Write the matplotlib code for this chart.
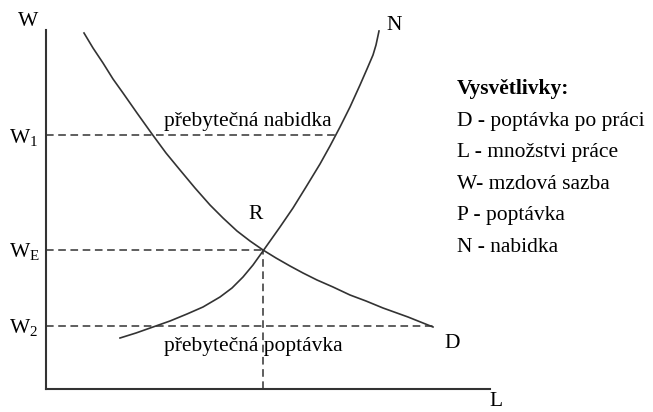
import matplotlib.pyplot as plt

plt.rcParams['font.family'] = ['Liberation Serif', 'DejaVu Serif']
plt.rcParams['mathtext.fontset'] = 'custom'
plt.rcParams['mathtext.rm'] = 'Liberation Serif'
plt.rcParams['mathtext.it'] = 'Liberation Serif'

# demand curve D (L, W)
demand_L = [38, 47, 57, 67, 77, 91, 106, 120, 134, 149, 164, 177, 191,
            204, 217, 230, 244, 257, 271, 287, 304, 320, 337, 362, 387]
demand_W = [356, 341, 326, 310, 296, 276, 255, 236, 219, 201, 184, 171, 158,
            148, 139, 131, 123, 116, 109, 102, 94, 88, 81, 72, 62]

# supply curve N
supply_L = [74, 90, 107, 124, 141, 157, 174, 186, 197, 207, 217, 234,
            247, 260, 274, 284, 294, 304, 314, 321, 327, 330, 333]
supply_W = [51, 56, 62, 68, 75, 82, 92, 101, 112, 124, 138, 162,
            181, 202, 225, 243, 262, 282, 304, 320, 334, 344, 358]

# wage levels and equilibrium
W1, WE, W2 = 254, 139, 63
LE = 217
W1_end = 289   # where W1 line meets N
W2_end = 389   # where W2 line meets D
axis_top = 359
axis_right = 444

legend_title = 'Vysvětlivky:'
legend_lines = ['D - poptávka po práci', 'L - množstvi práce', 'W- mzdová sazba',
                'P - poptávka', 'N - nabidka']

fig = plt.figure(figsize=(6.53, 4.12), dpi=100)
ax = fig.add_axes([0, 0, 1, 1])
ax.set_xlim(-46, 607)
ax.set_ylim(-23, 389)
ax.axis('off')

lc = '#333333'
fs = 15.5

# axes
ax.plot([0, 0], [0, axis_top], color=lc, lw=1.5)
ax.plot([0, axis_right], [0, 0], color=lc, lw=1.5)

# dashed guides
dash = dict(color=lc, lw=1.1, dashes=(5, 3))
ax.plot([0, W1_end], [W1, W1], **dash)
ax.plot([0, LE], [WE, WE], **dash)
ax.plot([0, W2_end], [W2, W2], **dash)
ax.plot([LE, LE], [0, WE], **dash)

# curves
ax.plot(demand_L, demand_W, color=lc, lw=1.2)
ax.plot(supply_L, supply_W, color=lc, lw=1.2)

# labels
ax.text(-18, 368, 'W', fontsize=fs, ha='center', va='center')
ax.text(-22, W1 - 2, r'$\mathrm{W}_1$', fontsize=fs, ha='center', va='center')
ax.text(-22, WE - 1, r'$\mathrm{W}_\mathrm{E}$', fontsize=fs, ha='center', va='center')
ax.text(-22, W2 - 2, r'$\mathrm{W}_2$', fontsize=fs, ha='center', va='center')
ax.text(450, -13, 'L', fontsize=fs, ha='center', va='center')
ax.text(348, 364, 'N', fontsize=fs, ha='center', va='center')
ax.text(406, 46, 'D', fontsize=fs, ha='center', va='center')
ax.text(210, 175, 'R', fontsize=fs, ha='center', va='center')
ax.text(202, 268, 'přebytečná nabidka', fontsize=fs, ha='center', va='center')
ax.text(207, 43, 'přebytečná poptávka', fontsize=fs, ha='center', va='center')

# explanation block
ax.text(411, 300, legend_title, fontsize=fs, fontweight='bold', ha='left', va='center')
for i, s in enumerate(legend_lines):
    ax.text(411, 268 - i * 31.5, s, fontsize=fs, ha='left', va='center')

fig.savefig('out.png', dpi=100)
